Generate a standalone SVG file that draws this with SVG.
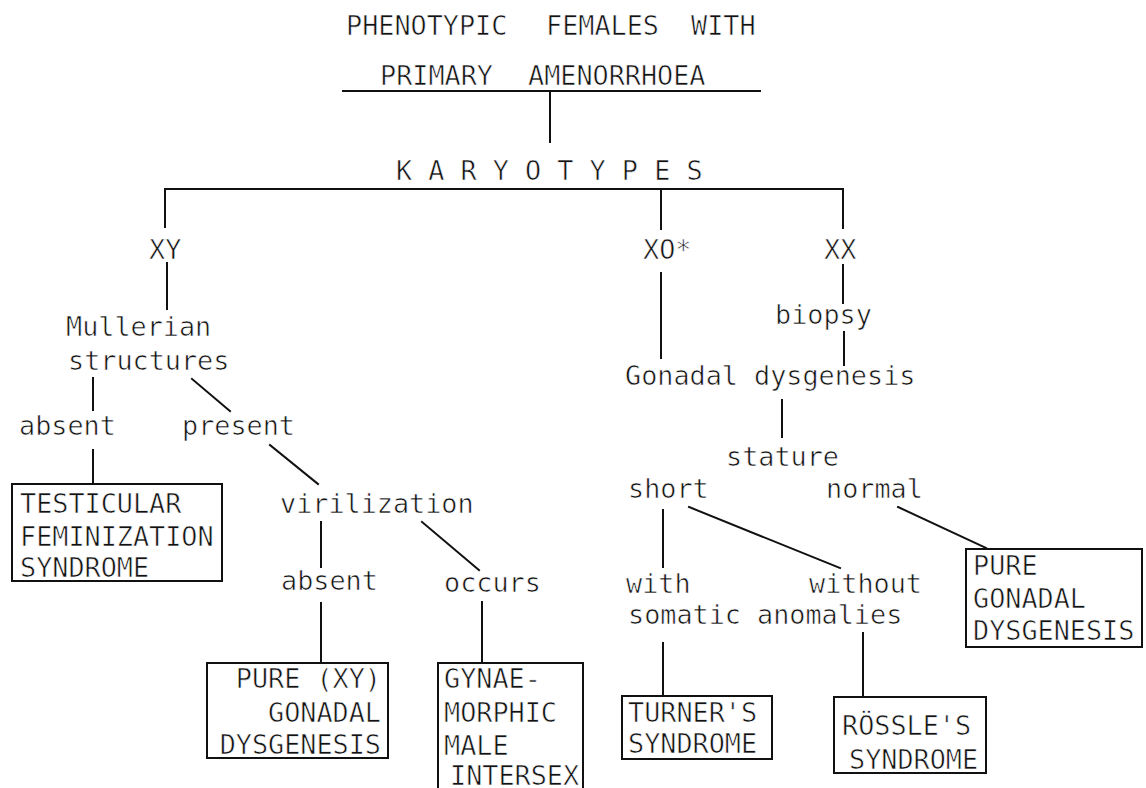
<svg xmlns="http://www.w3.org/2000/svg" width="1146" height="788" viewBox="0 0 1146 788">
  <style>
    text { font-family: "DejaVu Sans Mono", "Liberation Mono", monospace; font-size: 26.8px; fill: #111; stroke: #fff; stroke-width: 0.6px; }
    .ln { stroke: #111; stroke-width: 2; fill: none; stroke-linecap: square; }
    .box { stroke: #111; stroke-width: 2; fill: none; }
  </style>
  <rect width="1146" height="788" fill="#fff"/>

  <!-- connectors -->
  <g id="connectors" class="ln">
    <line x1="343" y1="91" x2="760" y2="91"/>
    <line x1="550" y1="91" x2="550" y2="142"/>
    <line x1="165" y1="189" x2="843" y2="189"/>
    <line x1="165" y1="189" x2="165" y2="227"/>
    <line x1="661" y1="189" x2="661" y2="229"/>
    <line x1="843" y1="189" x2="843" y2="228"/>
    <line x1="167" y1="263" x2="167" y2="309"/>
    <line x1="93" y1="378" x2="93" y2="410"/>
    <line x1="192" y1="379" x2="230" y2="411"/>
    <line x1="93" y1="450" x2="93" y2="484"/>
    <line x1="270" y1="445" x2="318" y2="484"/>
    <line x1="321" y1="522" x2="321" y2="567"/>
    <line x1="422" y1="522" x2="479" y2="570"/>
    <line x1="321" y1="603" x2="321" y2="663"/>
    <line x1="482" y1="602" x2="482" y2="663"/>
    <line x1="661" y1="273" x2="661" y2="358"/>
    <line x1="843" y1="265" x2="843" y2="303"/>
    <line x1="844" y1="332" x2="844" y2="365"/>
    <line x1="782" y1="400" x2="782" y2="437"/>
    <line x1="663" y1="510" x2="663" y2="567"/>
    <line x1="689" y1="507" x2="840" y2="568"/>
    <line x1="898" y1="507" x2="986" y2="548"/>
    <line x1="663" y1="643" x2="663" y2="696"/>
    <line x1="863" y1="633" x2="863" y2="697"/>
  </g>

  <!-- root heading -->
  <g id="root">
    <text y="35"><tspan x="346">PHENOTYPIC</tspan><tspan x="546">FEMALES</tspan><tspan x="691">WITH</tspan></text>
    <text y="85"><tspan x="380">PRIMARY</tspan><tspan x="528">AMENORRHOEA</tspan></text>
  </g>

  <g id="karyotypes">
    <text x="396" y="180">K A R Y O T Y P E S</text>
  </g>

  <g id="xy"><text x="149" y="259">XY</text></g>
  <g id="xo"><text x="643" y="259">XO*</text></g>
  <g id="xx"><text x="824" y="259">XX</text></g>

  <g id="mullerian">
    <text x="66" y="336">Mullerian</text>
    <text x="68" y="370">structures</text>
  </g>
  <g id="mullerian-absent"><text x="19" y="435">absent</text></g>
  <g id="mullerian-present"><text x="182" y="435">present</text></g>

  <g id="testicular-feminization">
    <rect class="box" x="12" y="484" width="210" height="97"/>
    <text x="20" y="513">TESTICULAR</text>
    <text x="20" y="546">FEMINIZATION</text>
    <text x="20" y="577">SYNDROME</text>
  </g>

  <g id="virilization"><text x="280" y="513">virilization</text></g>
  <g id="virilization-absent"><text x="281" y="590">absent</text></g>
  <g id="virilization-occurs"><text x="444" y="592">occurs</text></g>

  <g id="pure-xy">
    <rect class="box" x="207" y="663" width="181" height="95"/>
    <text x="381" y="688" text-anchor="end">PURE (XY)</text>
    <text x="381" y="722" text-anchor="end">GONADAL</text>
    <text x="381" y="754" text-anchor="end">DYSGENESIS</text>
  </g>

  <g id="gynaemorphic">
    <path class="box" d="M438,790 V663 H583 V790"/>
    <text x="444" y="688">GYNAE-</text>
    <text x="444" y="722">MORPHIC</text>
    <text x="444" y="755">MALE</text>
    <text x="450" y="785">INTERSEX</text>
  </g>

  <g id="biopsy"><text x="775" y="324">biopsy</text></g>
  <g id="gonadal-dysgenesis"><text x="625" y="385">Gonadal dysgenesis</text></g>
  <g id="stature"><text x="726" y="466">stature</text></g>
  <g id="short"><text x="628" y="498">short</text></g>
  <g id="normal"><text x="826" y="498">normal</text></g>

  <g id="somatic-anomalies">
    <text x="626" y="593">with</text>
    <text x="809" y="593">without</text>
    <text x="628" y="624">somatic anomalies</text>
  </g>

  <g id="turner">
    <rect class="box" x="622" y="696" width="150" height="63"/>
    <text x="628" y="722">TURNER'S</text>
    <text x="628" y="753">SYNDROME</text>
  </g>

  <g id="rossle">
    <rect class="box" x="834" y="697" width="152" height="76"/>
    <text x="842" y="735">RÖSSLE'S</text>
    <text x="849" y="769">SYNDROME</text>
  </g>

  <g id="pure-gonadal-dysgenesis">
    <rect class="box" x="966" y="549" width="176" height="98"/>
    <text x="973" y="575">PURE</text>
    <text x="973" y="608">GONADAL</text>
    <text x="973" y="640">DYSGENESIS</text>
  </g>
</svg>
